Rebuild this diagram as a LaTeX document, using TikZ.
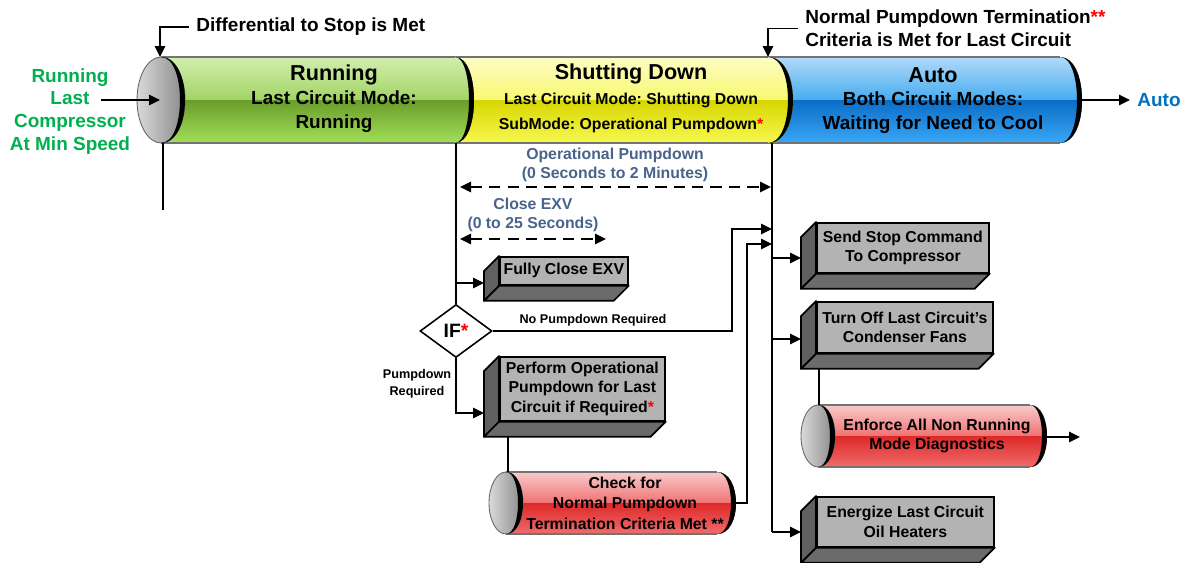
\documentclass[tikz,border=0pt]{standalone}
\usepackage{fontspec}
\setmainfont{Liberation Sans}
\frenchspacing
\usetikzlibrary{arrows.meta,calc,shapes.geometric}
\definecolor{grna}{HTML}{D2EEB0}
\definecolor{grnb}{HTML}{A2D464}
\definecolor{grnc}{HTML}{6A9C2A}
\definecolor{grnd}{HTML}{A2E058}
\definecolor{yela}{HTML}{FDFDC4}
\definecolor{yelb}{HTML}{F8F870}
\definecolor{yelc}{HTML}{D6D600}
\definecolor{yeld}{HTML}{F8F850}
\definecolor{blua}{HTML}{B2DAF8}
\definecolor{blub}{HTML}{46ACF0}
\definecolor{bluc}{HTML}{0A6CC6}
\definecolor{blud}{HTML}{3AA8F6}
\definecolor{reda}{HTML}{F8CACA}
\definecolor{redb}{HTML}{F07272}
\definecolor{redc}{HTML}{DE2828}
\definecolor{redd}{HTML}{F06C6C}
\definecolor{capl}{HTML}{DADADA}
\definecolor{capr}{HTML}{888888}
\definecolor{facegray}{HTML}{B3B3B3}
\definecolor{sidel}{HTML}{606060}
\definecolor{sideb}{HTML}{6B6B6B}
\definecolor{slate}{HTML}{48648A}
\definecolor{rungreen}{HTML}{00B050}
\definecolor{autoblue}{HTML}{0070C0}
\tikzset{txt/.style={font=\bfseries\fontsize{10.8}{13.6}\selectfont,align=center,inner sep=1pt},ttl/.style={font=\bfseries\fontsize{12.3}{14}\selectfont,inner sep=1pt},sub/.style={font=\bfseries\fontsize{9}{14.2}\selectfont,align=center,inner sep=1pt},face/.style={draw=black,line width=1pt,fill=facegray,align=center,anchor=north west,inner sep=1pt,font=\bfseries\fontsize{9}{11.2}\selectfont},note/.style={font=\bfseries\fontsize{9}{10.8}\selectfont,text=slate,align=center,inner sep=1pt},tiny/.style={font=\bfseries\fontsize{7.2}{9.6}\selectfont,align=center,inner sep=1pt},arrow/.style={-{Triangle[length=2.2mm,width=2.1mm]},line width=0.85pt},link/.style={line width=0.85pt},span/.style={{Triangle[length=2.2mm,width=2.1mm]}-{Triangle[length=2.2mm,width=2.1mm]},line width=0.85pt,dash pattern=on 6.5pt off 4pt},side/.style={draw=black,line width=1pt,line join=round},edge/.style={draw=black!55,line width=0.6pt},ifbox/.style={diamond,draw,line width=0.9pt,fill=white,minimum width=1.44cm,minimum height=1.06cm,inner sep=0pt,font=\bfseries\fontsize{11}{13}\selectfont}}
% glossy tube: x left, x right, y centre, y radius, x radius of end, colour prefix
\newcommand\tube[6]{%
\pgfmathsetmacro\yT{#3-#4}\pgfmathsetmacro\yB{#3+#4}\pgfmathsetmacro\xC{#2+1.333*#5}\pgfmathsetmacro\xI{#2+1.333*(#5-5)}%
\begin{scope}
\clip (#1,\yT) -- (#2,\yT) .. controls (\xC,\yT) and (\xC,\yB) .. (#2,\yB) -- (#1,\yB) -- cycle;
\fill[top color=#6a,bottom color=#6b] (#1,\yT) rectangle (\xC,#3);
\fill[top color=#6c,bottom color=#6d] (#1,#3) rectangle (\xC,\yB);
\end{scope}
\draw[edge] (#1,\yT) -- (#2,\yT) (#1,\yB) -- (#2,\yB);
\fill[black] (#2,\yT) .. controls (\xC,\yT) and (\xC,\yB) .. (#2,\yB) .. controls (\xI,\yB) and (\xI,\yT) .. cycle;}
% grey end of a tube
\newcommand\tubecap[4]{%
\pgfmathsetmacro\yT{#2-#4}\pgfmathsetmacro\yB{#2+#4}\pgfmathsetmacro\xC{#1+1.333*#3}\pgfmathsetmacro\xI{#1+1.333*(#3-5)}%
\shade[left color=capl,right color=capr,draw=black!60,line width=0.5pt] (#1,#2) ellipse [x radius=#3,y radius=#4];
\fill[black] (#1,\yT) .. controls (\xC,\yT) and (\xC,\yB) .. (#1,\yB) .. controls (\xI,\yB) and (\xI,\yT) .. cycle;}
% dark sides of a box
\newcommand\boxsides[1]{%
\filldraw[side,fill=sidel] (#1.north west) -- ++(-15,15) -- ($(#1.south west)+(-15,15)$) -- (#1.south west) -- cycle;
\filldraw[side,fill=sideb] (#1.south west) -- ++(-15,15) -- ($(#1.south east)+(-15,15)$) -- (#1.south east) -- cycle;
\coordinate (#1-l) at ($(#1.west)+(-15,0)$);
\coordinate (#1-b) at ($(#1.south west)+(-15,15)$);}

\begin{document}
\begin{tikzpicture}[x=0.02cm,y=-0.02cm]
\useasboundingbox (0,0) rectangle (1191,562);
% mode tubes
\tube{768}{1060}{100}{43}{22}{blu}
\tube{455}{768}{100}{43}{25}{yel}
\tube{161}{455}{100}{43}{19}{grn}
\tubecap{161}{100}{24}{43}
\node[ttl] (runT) at (334,75) {Running};
\node[txt] (runS) at (334,112) {Last Circuit Mode:\\Running};
\node[ttl] (shutT) at (631,74) {Shutting Down};
\node[sub] (shutS) at (631,112.5) {Last Circuit Mode: Shutting Down\\SubMode: Operational Pumpdown{\color{red}*}};
\node[ttl] (autoT) at (933,75) {Auto};
\node[txt] (autoS) at (933,113) {Both Circuit Modes:\\Waiting for Need to Cool};
% entry and exit
\node[txt,text=rungreen,font=\bfseries\fontsize{10.8}{13}\selectfont] (inp) at (70,111.5) {Running\\Last\\Compressor\\At Min Speed};
\coordinate (inTail) at (101,100);
\coordinate (capC) at (160,100);
\draw[arrow] (inTail) -- (capC);
\coordinate (blueEnd) at (1082,100);
\node[txt,text=autoblue,anchor=west,inner xsep=4pt] (autoOut) at (1130,100) {Auto};
\draw[arrow] (blueEnd) -- (autoOut);
% event notes
\node[txt,anchor=west,inner xsep=4pt] (dstop) at (189,27) {Differential to Stop is Met};
\coordinate (capTop) at (160,57);
\draw[arrow] (dstop.west) -| (capTop);
\node[txt,anchor=west,align=left,inner xsep=4pt,font=\bfseries\fontsize{10.8}{13}\selectfont] (npt) at (798,28.5) {Normal Pumpdown Termination{\color{red}**}\\Criteria is Met for Last Circuit};
\coordinate (yelTop) at (768,57);
\draw[arrow] (npt.west) -| (yelTop);
% timing spans
\node[note] (opTxt) at (615,164.5) {Operational Pumpdown\\(0 Seconds to 2 Minutes)};
\coordinate (opA) at (460,187);
\coordinate (opB) at (771,187);
\draw[span] (opA) -- (opB);
\node[note] (exvTxt) at (533,214.5) {Close EXV\\(0 to 25 Seconds)};
\coordinate (exA) at (460,239);
\coordinate (exB) at (606,239);
\draw[span] (exA) -- (exB);
% actions
\node[face,minimum width=2.56cm,minimum height=0.56cm] (fce) at (499,256) {Fully Close EXV};
\boxsides{fce}
\node[face,minimum width=3.3cm,minimum height=1.28cm] (pfm) at (499,356) {Perform Operational\\Pumpdown for Last\\Circuit if Required{\color{red}*}};
\boxsides{pfm}
\node[face,minimum width=3.44cm,minimum height=1cm] (stop) at (816,222) {Send Stop Command\\To Compressor};
\boxsides{stop}
\node[face,minimum width=3.52cm,minimum height=1.02cm] (fans) at (816,301) {Turn Off Last Circuit’s\\Condenser Fans};
\boxsides{fans}
\node[face,minimum width=3.54cm,minimum height=1cm] (heat) at (816,496) {Energize Last Circuit\\Oil Heaters};
\boxsides{heat}
\tube{506}{717}{503}{31}{19}{red}
\tubecap{506}{503}{17}{31}
\node[txt,font=\bfseries\fontsize{9}{11.6}\selectfont] (chk) at (625,503) {Check for\\Normal Pumpdown\\Termination Criteria Met **};
\tube{818}{1030}{436}{31}{17}{red}
\tubecap{818}{436}{17}{31}
\node[txt,font=\bfseries\fontsize{9}{10.8}\selectfont] (enf) at (937,435.5) {Enforce All Non Running\\Mode Diagnostics};
% decision
\node[ifbox] (ifD) at (456,331) {IF{\color{red}*}};
\node[tiny] (noPd) at (593,320) {No Pumpdown Required};
\node[tiny] (yesPd) at (417,383.5) {Pumpdown\\Required};
% left trunk
\coordinate (gyB) at (456,143);
\coordinate (j1) at (456,283);
\coordinate (j3) at (456,413);
\draw[link] (gyB) -- (ifD.north);
\draw[arrow] (j1) -- (j1 -| fce-l);
\draw[arrow] (ifD.south) -- (j3) -- (j3 -| pfm-l);
\coordinate (k1) at (732,229);
\coordinate (k1e) at (772,229);
\draw[arrow] (ifD.east) -| (k1) -- (k1e);
\coordinate (chkTop) at (508,472);
\draw[link] (chkTop |- pfm-b) -- (chkTop);
\coordinate (chkR) at (736,503);
\coordinate (k2) at (747,244);
\coordinate (k2e) at (772,244);
\draw[arrow] (chkR) -| (k2) -- (k2e);
% right trunk
\coordinate (ybB) at (772,143);
\coordinate (t1) at (772,258);
\coordinate (t2) at (772,339);
\coordinate (t3) at (772,532);
\draw[link] (ybB) -- (t3);
\foreach \a/\b in {t1/stop,t2/fans,t3/heat}{\draw[arrow](\a)--(\a -| \b-l);}
\coordinate (enfTop) at (819,405);
\draw[link] (enfTop |- fans-b) -- (enfTop);
\coordinate (enfR) at (1047,437);
\coordinate (enfOut) at (1080,437);
\draw[arrow] (enfR) -- (enfOut);
\coordinate (capB) at (163,143);
\coordinate (capTail) at (163,210);
\draw[link] (capB) -- (capTail);
\end{tikzpicture}
\end{document}
